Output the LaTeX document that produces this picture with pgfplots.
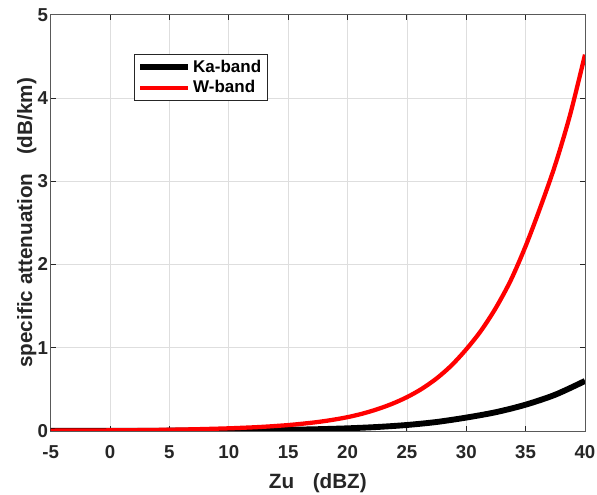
\documentclass[border=0pt]{standalone}
\usepackage{pgfplots}
\pgfplotsset{compat=1.18}
\usepackage{fontspec}
\setmainfont{Liberation Sans}
\definecolor{axgray}{rgb}{0.15,0.15,0.15}
\definecolor{linegray}{rgb}{0.35,0.35,0.35}
\definecolor{gridgray}{rgb}{0.87,0.87,0.87}
\begin{document}
\begin{tikzpicture}
\path[use as bounding box] (-38pt,-48pt) rectangle (409.5pt,323pt);
\begin{axis}[
  at={(0,0)}, anchor=south west,
  scale only axis, width=400.5pt, height=312pt,
  xmin=-5, xmax=40, ymin=0, ymax=5,
  xtick={-5,0,...,40}, ytick={0,1,...,5},
  grid=major, major grid style={gridgray, line width=0.5pt},
  axis line style={linegray, line width=0.6pt},
  tick style={axgray, line width=0.6pt},
  tick align=inside, major tick length=4pt,
  xtick pos=both, ytick pos=both,
  /pgf/number format/assume math mode=true,
  ticklabel style={font=\fontsize{14}{16}\selectfont\bfseries, text=axgray},
  xticklabel style={yshift=-7.5pt},
  yticklabel style={xshift=1.5pt},
  xlabel={Zu\hspace{0.9em}(dBZ)},
  ylabel={specific attenuation\hspace{0.9em}(dB/km)},
  label style={font=\fontsize{15.5}{18}\selectfont\bfseries, text=axgray},
  xlabel style={yshift=-4pt},
  ylabel style={yshift=-6pt},
  legend style={at={(axis cs:2.0,4.53)}, anchor=north west, draw=axgray, line width=0.6pt,
    font=\fontsize{12.75}{15}\selectfont\bfseries, inner sep=2.5pt, row sep=0.5pt,
    cells={anchor=west}},
  legend cell align=left,
  legend image code/.code={\draw[#1] (0cm,0cm) -- (1.24cm,0cm);},
]
\addplot[black, line width=4.4pt, smooth] coordinates {
(-5,0.0005) (-2.5,0.0008) (0,0.0012) (2.5,0.0018) (5,0.0027) (7.5,0.004) (10,0.006) (12.5,0.009) (15,0.0136)
(17.5,0.0205) (20,0.031) (22.5,0.047) (25,0.071) (27.5,0.107) (30,0.16) (32.5,0.225) (35,0.315) (37.5,0.435) (40,0.6)};
\addlegendentry{Ka-band}
\addplot[red, line width=3.2pt, smooth] coordinates {
(-5,0.003) (-2.5,0.0045) (0,0.0065) (2.5,0.0095) (5,0.014) (7.5,0.021) (10,0.031) (11.25,0.038) (12.5,0.046)
(13.75,0.057) (15,0.07) (16.25,0.087) (17.5,0.107) (18.75,0.133) (20,0.165) (21.25,0.207) (22.5,0.26)
(23.75,0.325) (25,0.405) (26.25,0.505) (27.5,0.63) (28.75,0.786) (30,0.98) (31.25,1.205) (32.5,1.48)
(33.75,1.81) (35,2.22) (36.25,2.69) (37.5,3.2) (38.75,3.8) (40,4.52)};
\addlegendentry{W-band}
\end{axis}
\end{tikzpicture}
\end{document}
